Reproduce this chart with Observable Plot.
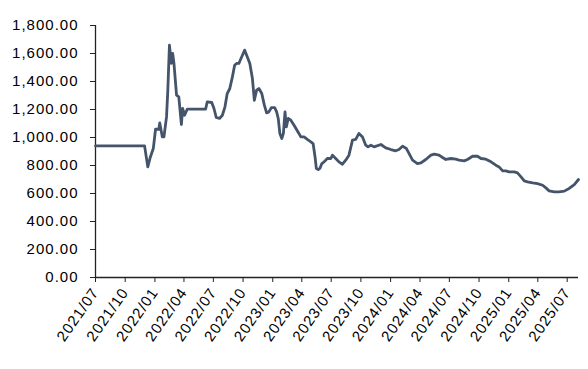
<!DOCTYPE html>
<html>
<head>
<meta charset="utf-8">
<script src="https://cdn.jsdelivr.net/npm/d3@7"></script>
<script src="https://cdn.jsdelivr.net/npm/@observablehq/plot@0.6"></script>
<style>
  body { margin: 0; background: #fff; }
  #chart svg { font-family: "Liberation Sans", Arial, sans-serif; }
  #chart g[aria-label="y-axis tick label"] text,
  #chart g[aria-label="x-axis tick label"] text { letter-spacing: 1px; }
</style>
</head>
<body>
<div id="chart"></div>
<script>
const dates = [
  "2021-07-01","2021-11-30","2021-12-10","2021-12-18","2021-12-27","2022-01-03","2022-01-13","2022-01-16",
  "2022-01-24","2022-01-29","2022-02-06","2022-02-10","2022-02-15","2022-02-21","2022-02-25","2022-03-01",
  "2022-03-09","2022-03-16","2022-03-24","2022-03-28","2022-04-03","2022-04-11","2022-06-07","2022-06-12",
  "2022-06-26","2022-07-03","2022-07-10","2022-07-20","2022-07-29","2022-08-06","2022-08-13","2022-08-21",
  "2022-08-29","2022-09-05","2022-09-11","2022-09-18","2022-09-29","2022-10-06","2022-10-14","2022-10-22",
  "2022-10-30","2022-11-05","2022-11-12","2022-11-19","2022-11-28","2022-12-06","2022-12-13","2022-12-20",
  "2022-12-28","2023-01-07","2023-01-13","2023-01-18","2023-01-23","2023-01-29","2023-02-03","2023-02-08",
  "2023-02-12","2023-02-18","2023-02-26","2023-03-08","2023-03-23","2023-03-29","2023-04-08","2023-04-18",
  "2023-04-29","2023-05-06","2023-05-12","2023-05-16","2023-05-22","2023-05-27","2023-06-02","2023-06-09",
  "2023-06-19","2023-06-30","2023-07-05","2023-07-15","2023-07-25","2023-08-05","2023-08-15","2023-08-25",
  "2023-09-05","2023-09-15","2023-09-25","2023-10-06","2023-10-16","2023-10-23","2023-11-01","2023-11-11",
  "2023-12-02","2023-12-17","2024-01-02","2024-01-17","2024-01-27","2024-02-07","2024-02-19","2024-02-27",
  "2024-03-09","2024-03-24","2024-04-04","2024-04-19","2024-05-05","2024-05-15","2024-05-30","2024-06-10",
  "2024-06-20","2024-07-06","2024-07-21","2024-07-31","2024-08-16","2024-08-26","2024-09-11","2024-09-26",
  "2024-10-07","2024-10-22","2024-11-07","2024-11-22","2024-12-02","2024-12-13","2024-12-23","2025-01-02",
  "2025-01-18","2025-01-28","2025-02-08","2025-02-18","2025-02-28","2025-03-16","2025-03-31","2025-04-16",
  "2025-04-26","2025-05-06","2025-05-22","2025-06-06","2025-06-22","2025-07-07","2025-07-23","2025-08-05"
];
const values = [
  940, 940, 790, 861, 921, 1059, 1059, 1104,
  1004, 1004, 1147, 1338, 1659, 1529, 1600, 1529,
  1302, 1290, 1093, 1207, 1159, 1202, 1202, 1254,
  1250, 1207, 1143, 1136, 1159, 1219, 1314, 1350,
  1433, 1516, 1529, 1529, 1588, 1624, 1576, 1529,
  1421, 1266, 1338, 1350, 1314, 1231, 1176, 1183,
  1214, 1214, 1183, 1136, 1029, 993, 1029, 1183,
  1076, 1136, 1124, 1088, 1029, 1004, 1004, 986,
  969, 957, 861, 779, 771, 779, 814, 826,
  850, 850, 874, 850, 826, 809, 838, 874,
  981, 986, 1029, 1004, 945, 933, 945, 933,
  950, 926, 914, 905, 914, 938, 921, 886,
  838, 814, 819, 843, 874, 881, 874, 857,
  843, 850, 845, 838, 833, 843, 866, 866,
  850, 845, 826, 802, 790, 762, 762, 754,
  754, 747, 719, 690, 683, 676, 671, 659,
  640, 619, 612, 612, 617, 636, 664, 700
];
const yTicks = [0, 200, 400, 600, 800, 1000, 1200, 1400, 1600, 1800];
const xTicks = [
  "2021-07-01","2021-10-01","2022-01-01","2022-04-01","2022-07-01","2022-10-01",
  "2023-01-01","2023-04-01","2023-07-01","2023-10-01","2024-01-01","2024-04-01",
  "2024-07-01","2024-10-01","2025-01-01","2025-04-01","2025-07-01"
];
const xStart = "2021-07-01";
const xEnd = "2025-08-05";

const data = dates.map((d, i) => ({date: new Date(d), value: values[i]}));

const plot = Plot.plot({
  width: 588,
  height: 369,
  marginLeft: 95,
  marginRight: 10,
  marginTop: 25,
  marginBottom: 92,
  style: {fontFamily: '"Liberation Sans", Arial, sans-serif', fontSize: "15px", color: "#000", background: "#fff"},
  x: {type: "utc", domain: [new Date(xStart), new Date(xEnd)]},
  y: {domain: [0, 1800]},
  marks: [
    Plot.axisY({ticks: yTicks, tickFormat: d3.format(",.2f"), tickSize: 5, tickPadding: 12, fontSize: 15, label: null, stroke: "#222"}),
    Plot.axisX({ticks: xTicks.map(d => new Date(d)), tickFormat: d3.utcFormat("%Y/%m"), tickRotate: -55, tickSize: 5, tickPadding: 7, fontSize: 15, label: null, stroke: "#222"}),
    Plot.ruleX([new Date(xStart)], {stroke: "#222", strokeWidth: 1.3}),
    Plot.ruleY([0], {stroke: "#222", strokeWidth: 1.3}),
    Plot.lineY(data, {x: "date", y: "value", stroke: "#44546A", strokeWidth: 2.8})
  ]
});
document.getElementById("chart").appendChild(plot);
</script>
</body>
</html>
